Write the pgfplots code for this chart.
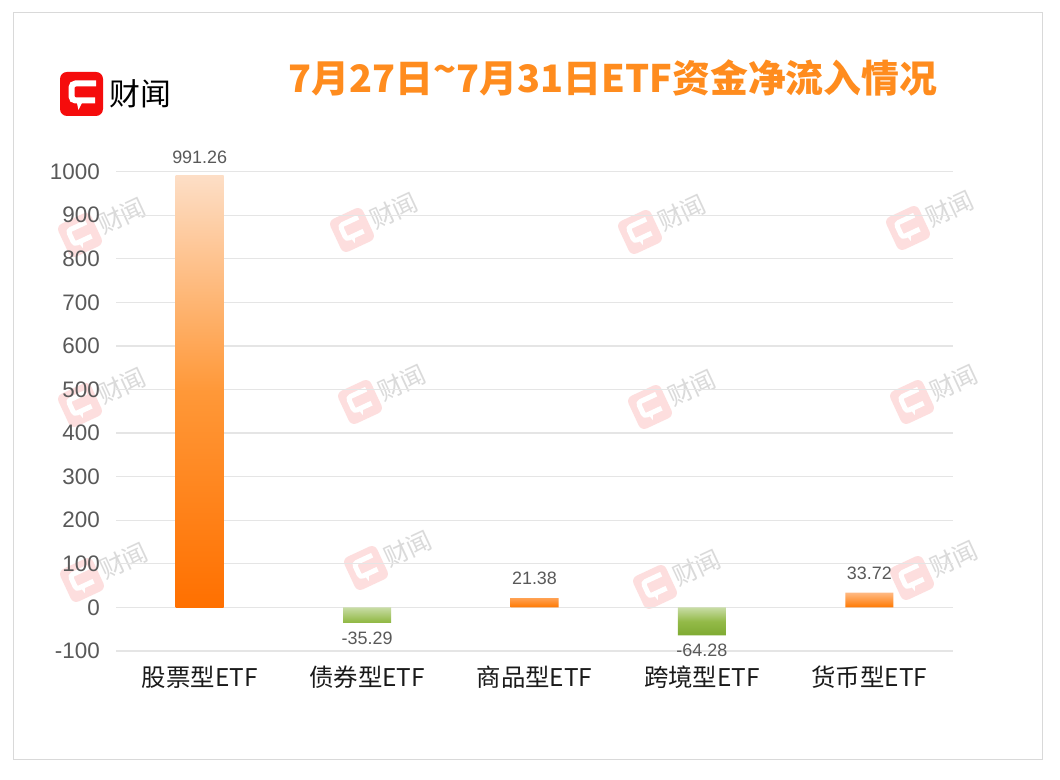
\documentclass[border=0pt]{standalone}
\usepackage{fontspec}
\setmainfont{Liberation Sans}
\newfontfamily\cjk{Noto Sans CJK SC}
\usepackage{pgfplots}
\pgfplotsset{compat=1.18}
\definecolor{gridgray}{RGB}{229,229,229}
\definecolor{framegray}{RGB}{217,217,217}
\definecolor{ticktext}{RGB}{89,89,89}
\definecolor{cattext}{RGB}{26,26,26}
\definecolor{titleorange}{RGB}{255,140,30}
\definecolor{logored}{RGB}{245,12,12}
\definecolor{wmpink}{RGB}{253,222,222}
\definecolor{wmtext}{RGB}{218,218,218}
\definecolor{bigtop}{RGB}{253,222,198}
\definecolor{bigmid}{RGB}{255,152,56}
\definecolor{bigbot}{RGB}{255,112,0}
\definecolor{smtop}{RGB}{255,185,130}
\definecolor{smbot}{RGB}{255,120,0}
\definecolor{grtop}{RGB}{200,220,165}
\definecolor{grmid}{RGB}{147,186,72}
\definecolor{grbot}{RGB}{126,170,50}
\newcommand{\wm}[2]{%
  \begin{scope}[shift={(#1,{780-#2})},rotate=25]
    \fill[wmpink,rounded corners=6bp] (-18,-18) rectangle (18,18);
    \draw[white,line width=5bp,rounded corners=3bp] (11,9) -- (-9,9) -- (-9,-6) -- (10,-6);
    \fill[white] (-5,-5) -- (1,-5) -- (-3,-13) -- cycle;
    \node[anchor=west,inner sep=0pt,text=wmtext,transform shape,font=\cjk\fontsize{25}{27}\selectfont] at (21,0) {财闻};
  \end{scope}}
\begin{document}
\begin{tikzpicture}[x=1bp,y=1bp]
\fill[white] (0,0) rectangle (1060,780);
\draw[framegray,line width=1.2bp] (13.5,20.5) rectangle (1042.5,767.5);
% logo
\fill[logored,rounded corners=7bp] (60,664) rectangle (103,708);
\draw[white,line width=6bp,rounded corners=4bp] (96,696.5) -- (71.5,696.5) -- (71.5,679.5) -- (95,679.5);
\fill[white] (76,681) -- (84,681) -- (78.5,670) -- cycle;
\node[anchor=west,inner sep=0pt,font=\cjk\fontsize{31}{34}\selectfont] at (109,686) {财闻};
% title
\node[text=titleorange,inner sep=0pt,font=\cjk\bfseries\fontsize{38}{42}\selectfont] at (613,702) {7月27日\raisebox{0.25em}{\char`\~}7月31日ETF资金净流入情况};
% watermarks
\wm{80}{235}\wm{352}{230}\wm{640}{232}\wm{908}{228}
\wm{80}{405}\wm{360}{402}\wm{650}{407}\wm{912}{402}
\wm{82}{580}\wm{366}{568}\wm{655}{587}\wm{912}{578}
\begin{axis}[
  at={(116bp,129bp)}, anchor=south west,
  scale only axis, width=837bp, height=479.3bp,
  xmin=-0.5, xmax=4.5, ymin=-100, ymax=1000,
  xtick={0,1,2,3,4},
  xticklabels={股票型ETF,债券型ETF,商品型ETF,跨境型ETF,货币型ETF},
  ytick={-100,0,100,200,300,400,500,600,700,800,900,1000},
  axis line style={draw=none},
  major tick length=0pt,
  ymajorgrids, grid style={color=gridgray,line width=1.3bp},
  /pgf/number format/assume math mode=true,
  /pgf/number format/1000 sep={},
  yticklabel style={font=\fontsize{22.5}{26}\selectfont,text=ticktext,inner sep=0pt,xshift=-16bp,anchor=east},
  xticklabel style={font=\cjk\fontsize{24.5}{28}\selectfont,text=cattext,inner sep=0pt,yshift=-15bp,anchor=north},
  clip=false,
  point meta=explicit symbolic,
  nodes near coords,
]
\addplot[ybar,bar width=48bp,bar shift=0pt,draw=none,
  top color=bigtop,bottom color=bigbot,middle color=bigmid,
  nodes near coords style={anchor=south,inner sep=0pt,yshift=12bp,text=ticktext,font=\fontsize{18}{20}\selectfont}]
  coordinates {(0,991.26) [991.26]};
\addplot[ybar,bar width=48bp,bar shift=0pt,draw=none,
  top color=smtop,bottom color=smbot,
  nodes near coords style={anchor=south,inner sep=0pt,yshift=13bp,text=ticktext,font=\fontsize{18}{20}\selectfont}]
  coordinates {(2,21.38) [21.38] (4,33.72) [33.72]};
\addplot[ybar,bar width=48bp,bar shift=0pt,draw=none,
  top color=grtop,bottom color=grbot,middle color=grmid,
  nodes near coords style={anchor=north,inner sep=0pt,yshift=-8.5bp,text=ticktext,font=\fontsize{18}{20}\selectfont}]
  coordinates {(1,-35.29) [-35.29] (3,-64.28) [-64.28]};
\end{axis}
\end{tikzpicture}
\end{document}
